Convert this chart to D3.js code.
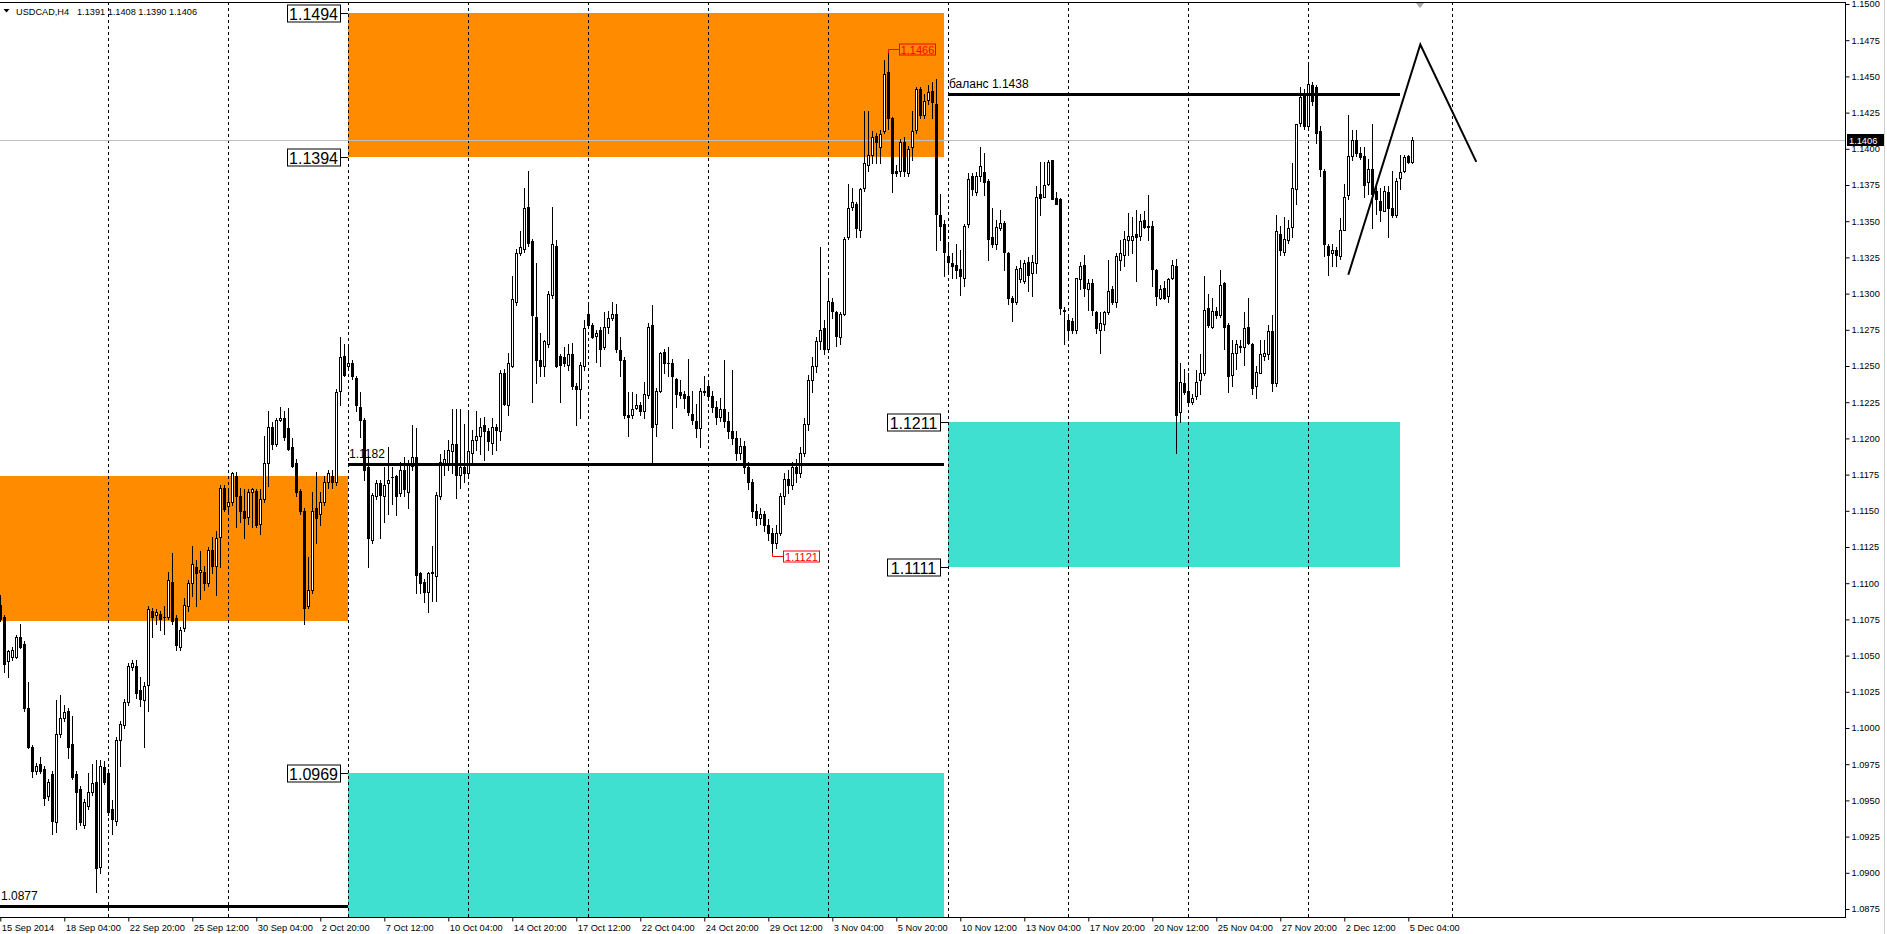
<!DOCTYPE html>
<html>
<head>
<meta charset="utf-8">
<script src="https://d3js.org/d3.v7.min.js"></script>
<style>
  body { margin: 0; background: #fff; }
  svg { display: block; }
</style>
</head>
<body>
<svg class="target" width="1887" height="934"></svg>
<script>

// USDCAD H4 bars, bar 0 = 15 Sep 2014 12:00 ... bar 353 = 5 Dec 2014 08:00
const opens = [
1.1085,1.1077,1.1046,1.1049,1.1049,1.1063,1.1058,1.1014,1.0987,1.0970,
1.0975,1.0972,1.0953,1.0968,1.0935,1.0996,1.1007,1.1012,1.0989,1.0968,
1.0958,1.0933,1.0946,1.0956,1.0963,1.0904,1.0973,1.0969,1.0944,1.0936,
1.0992,1.1002,1.1018,1.1042,1.1043,1.1026,1.1019,1.1030,1.1081,1.1078,
1.1079,1.1077,1.1077,1.1101,1.1076,1.1056,1.1069,1.1084,1.1100,1.1111,
1.1108,1.1108,1.1100,1.1123,1.1112,1.1132,1.1166,1.1153,1.1156,1.1174,
1.1160,1.1150,1.1146,1.1163,1.1164,1.1141,1.1158,1.1183,1.1208,1.1196,
1.1213,1.1214,1.1207,1.1194,1.1183,1.1164,1.1150,1.1084,1.1095,1.1152,
1.1148,1.1156,1.1170,1.1174,1.1170,1.1233,1.1257,1.1250,1.1252,1.1242,
1.1222,1.1213,1.1180,1.1130,1.1160,1.1169,1.1160,1.1169,1.1173,1.1174,
1.1162,1.1178,1.1163,1.1181,1.1187,1.1107,1.1101,1.1094,1.1107,1.1105,
1.1160,1.1183,1.1182,1.1191,1.1196,1.1175,1.1180,1.1176,1.1190,1.1199,
1.1202,1.1209,1.1205,1.1197,1.1208,1.1205,1.1245,1.1223,1.1250,1.1294,
1.1328,1.1331,1.1360,1.1336,1.1284,1.1254,1.1250,1.1265,1.1299,1.1333,
1.1257,1.1256,1.1251,1.1258,1.1236,1.1234,1.1250,1.1286,1.1278,1.1271,
1.1275,1.1263,1.1277,1.1283,1.1286,1.1261,1.1254,1.1216,1.1216,1.1221,
1.1223,1.1219,1.1230,1.1278,1.1210,1.1233,1.1260,1.1252,1.1252,1.1241,
1.1232,1.1231,1.1229,1.1217,1.1212,1.1207,1.1233,1.1236,1.1229,1.1222,
1.1215,1.1220,1.1212,1.1205,1.1200,1.1190,1.1195,1.1180,1.1170,1.1150,
1.1145,1.1148,1.1140,1.1135,1.1128,1.1135,1.1160,1.1172,1.1168,1.1180,
1.1176,1.1190,1.1210,1.1240,1.1250,1.1267,1.1276,1.1262,1.1294,1.1287,
1.1270,1.1286,1.1339,1.1360,1.1362,1.1344,1.1373,1.1389,1.1396,1.1409,
1.1401,1.1412,1.1453,1.1421,1.1385,1.1385,1.1405,1.1383,1.1401,1.1413,
1.1441,1.1423,1.1434,1.1440,1.1431,1.1354,1.1348,1.1326,1.1321,1.1320,
1.1317,1.1311,1.1348,1.1381,1.1370,1.1381,1.1384,1.1378,1.1339,1.1334,
1.1345,1.1349,1.1328,1.1297,1.1294,1.1310,1.1309,1.1322,1.1314,1.1321,
1.1369,1.1367,1.1376,1.1392,1.1366,1.1365,1.1289,1.1282,1.1281,1.1275,
1.1310,1.1320,1.1303,1.1307,1.1287,1.1275,1.1279,1.1287,1.1303,1.1294,
1.1323,1.1327,1.1337,1.1337,1.1341,1.1340,1.1351,1.1346,1.1347,1.1316,
1.1297,1.1304,1.1298,1.1311,1.1319,1.1218,1.1238,1.1233,1.1225,1.1229,
1.1240,1.1245,1.1290,1.1277,1.1288,1.1285,1.1307,1.1278,1.1244,1.1259,
1.1264,1.1263,1.1277,1.1265,1.1236,1.1245,1.1257,1.1258,1.1274,1.1238,
1.1341,1.1329,1.1337,1.1346,1.1372,1.1418,1.1438,1.1416,1.1444,1.1443,
1.1412,1.1385,1.1333,1.1328,1.1330,1.1326,1.1344,1.1368,1.1395,1.1406,
1.1397,1.1395,1.1377,1.1386,1.1371,1.1364,1.1357,1.1370,1.1359,1.1354,
1.1380,1.1385,1.1395,1.1391
]
const highs = [
1.1092,1.1078,1.1054,1.1056,1.1064,1.1072,1.1060,1.1032,1.0988,1.0976,
1.0980,1.0974,1.0965,1.0970,1.1019,1.1023,1.1016,1.1014,1.1008,1.0970,
1.0960,1.0951,1.0969,1.0975,1.0978,1.0978,1.0977,1.0972,1.0950,1.0994,
1.1005,1.1020,1.1045,1.1047,1.1047,1.1035,1.1032,1.1084,1.1083,1.1082,
1.1081,1.1084,1.1108,1.1121,1.1078,1.1070,1.1090,1.1102,1.1126,1.1116,
1.1122,1.1112,1.1125,1.1132,1.1136,1.1168,1.1168,1.1166,1.1177,1.1177,
1.1166,1.1165,1.1165,1.1166,1.1165,1.1165,1.1202,1.1219,1.1211,1.1214,
1.1222,1.1219,1.1221,1.1200,1.1186,1.1165,1.1152,1.1118,1.1163,1.1177,
1.1163,1.1174,1.1178,1.1178,1.1234,1.1270,1.1265,1.1265,1.1254,1.1243,
1.1232,1.1214,1.1188,1.1162,1.1171,1.1171,1.1180,1.1194,1.1180,1.1175,
1.1184,1.1187,1.1185,1.1209,1.1207,1.1108,1.1103,1.1108,1.1126,1.1163,
1.1189,1.1192,1.1199,1.1220,1.1220,1.1220,1.1210,1.1219,1.1206,1.1219,
1.1214,1.1215,1.1207,1.1214,1.1210,1.1247,1.1248,1.1259,1.1312,1.1331,
1.1343,1.1373,1.1385,1.1338,1.1321,1.1273,1.1268,1.1302,1.1360,1.1337,
1.1258,1.1263,1.1265,1.1266,1.1238,1.1253,1.1282,1.1294,1.1280,1.1275,
1.1277,1.1287,1.1288,1.1294,1.1293,1.1270,1.1256,1.1232,1.1232,1.1231,
1.1225,1.1239,1.1280,1.1292,1.1235,1.1260,1.1262,1.1263,1.1255,1.1242,
1.1240,1.1233,1.1255,1.1233,1.1224,1.1235,1.1243,1.1238,1.1233,1.1226,
1.1228,1.1254,1.1218,1.1247,1.1205,1.1200,1.1198,1.1184,1.1172,1.1155,
1.1152,1.1150,1.1144,1.1138,1.1140,1.1162,1.1176,1.1178,1.1184,1.1186,
1.1194,1.1214,1.1244,1.1256,1.1270,1.1332,1.1282,1.1311,1.1297,1.1288,
1.1287,1.1339,1.1376,1.1373,1.1363,1.1373,1.1426,1.1426,1.1412,1.1411,
1.1413,1.1461,1.1466,1.1422,1.1389,1.1407,1.1408,1.1402,1.1426,1.1443,
1.1443,1.1438,1.1444,1.1446,1.1448,1.1369,1.1351,1.1334,1.1328,1.1334,
1.1330,1.1348,1.1383,1.1383,1.1384,1.1401,1.1397,1.1379,1.1359,1.1351,
1.1358,1.1350,1.1329,1.1298,1.1319,1.1323,1.1323,1.1325,1.1327,1.1374,
1.1391,1.1391,1.1392,1.1392,1.1370,1.1366,1.1291,1.1284,1.1283,1.1311,
1.1322,1.1327,1.1310,1.1310,1.1288,1.1287,1.1288,1.1323,1.1305,1.1328,
1.1337,1.1343,1.1356,1.1353,1.1358,1.1355,1.1357,1.1368,1.1350,1.1317,
1.1306,1.1309,1.1311,1.1323,1.1324,1.1252,1.1248,1.1245,1.1231,1.1247,
1.1258,1.1312,1.1300,1.1297,1.1291,1.1316,1.1308,1.1280,1.1268,1.1268,
1.1268,1.1287,1.1297,1.1266,1.1250,1.1268,1.1268,1.1278,1.1285,1.1354,
1.1347,1.1353,1.1351,1.1390,1.1417,1.1443,1.1441,1.1460,1.1446,1.1444,
1.1416,1.1386,1.1334,1.1334,1.1332,1.1352,1.1376,1.1423,1.1413,1.1413,
1.1401,1.1401,1.1393,1.1417,1.1374,1.1373,1.1374,1.1374,1.1385,1.1380,
1.1396,1.1396,1.1396,1.1408
]
const lows = [
1.1074,1.1039,1.1035,1.1047,1.1048,1.1055,1.1012,1.0986,1.0966,1.0968,
1.0969,1.0947,1.0950,1.0927,1.0928,1.0994,1.1005,1.0979,1.0965,1.0930,
1.0933,1.0931,1.0944,1.0954,1.0887,1.0900,1.0961,1.0940,1.0927,1.0933,
1.0974,1.1000,1.1016,1.1040,1.1021,1.1015,1.0987,1.1012,1.1063,1.1072,
1.1068,1.1065,1.1075,1.1072,1.1054,1.1054,1.1067,1.1081,1.1091,1.1084,
1.1089,1.1095,1.1098,1.1107,1.1092,1.1111,1.1150,1.1150,1.1154,1.1139,
1.1142,1.1131,1.1141,1.1139,1.1139,1.1134,1.1156,1.1167,1.1193,1.1195,
1.1212,1.1199,1.1192,1.1180,1.1160,1.1148,1.1072,1.1083,1.1093,1.1128,
1.1140,1.1154,1.1166,1.1166,1.1168,1.1223,1.1243,1.1247,1.1241,1.1219,
1.1201,1.1171,1.1111,1.1128,1.1158,1.1131,1.1142,1.1148,1.1155,1.1147,
1.1160,1.1160,1.1152,1.1178,1.1093,1.1093,1.1087,1.1080,1.1088,1.1088,
1.1158,1.1175,1.1178,1.1176,1.1159,1.1166,1.1170,1.1173,1.1182,1.1192,
1.1189,1.1185,1.1192,1.1189,1.1192,1.1199,1.1223,1.1216,1.1249,1.1292,
1.1327,1.1329,1.1333,1.1225,1.1238,1.1243,1.1243,1.1263,1.1297,1.1249,
1.1225,1.1250,1.1247,1.1234,1.1209,1.1214,1.1247,1.1276,1.1269,1.1253,
1.1250,1.1262,1.1273,1.1282,1.1260,1.1243,1.1214,1.1202,1.1214,1.1220,
1.1216,1.1214,1.1228,1.1183,1.1202,1.1232,1.1245,1.1243,1.1207,1.1222,
1.1228,1.1221,1.1216,1.1210,1.1201,1.1194,1.1230,1.1227,1.1218,1.1210,
1.1212,1.1208,1.1200,1.1196,1.1185,1.1186,1.1176,1.1165,1.1146,1.1140,
1.1141,1.1136,1.1130,1.1121,1.1124,1.1133,1.1155,1.1162,1.1165,1.1170,
1.1173,1.1188,1.1206,1.1232,1.1246,1.1262,1.1258,1.1260,1.1283,1.1264,
1.1265,1.1285,1.1338,1.1358,1.1339,1.1339,1.1371,1.1385,1.1390,1.1390,
1.1390,1.1411,1.1414,1.1370,1.1381,1.1381,1.1381,1.1381,1.1392,1.1411,
1.1421,1.1421,1.1431,1.1421,1.1330,1.1337,1.1312,1.1314,1.1311,1.1311,
1.1299,1.1305,1.1346,1.1368,1.1368,1.1378,1.1368,1.1323,1.1332,1.1331,
1.1344,1.1316,1.1293,1.1281,1.1293,1.1308,1.1307,1.1302,1.1298,1.1314,
1.1354,1.1367,1.1375,1.1365,1.1362,1.1286,1.1265,1.1268,1.1273,1.1273,
1.1303,1.1298,1.1289,1.1285,1.1273,1.1259,1.1275,1.1286,1.1293,1.1291,
1.1316,1.1319,1.1327,1.1328,1.1309,1.1337,1.1345,1.1337,1.1305,1.1292,
1.1296,1.1296,1.1294,1.1310,1.1190,1.1211,1.1231,1.1223,1.1224,1.1227,
1.1231,1.1244,1.1277,1.1276,1.1283,1.1284,1.1262,1.1232,1.1236,1.1248,
1.1260,1.1251,1.1265,1.1231,1.1228,1.1245,1.1254,1.1255,1.1233,1.1236,
1.1327,1.1327,1.1335,1.1339,1.1362,1.1416,1.1414,1.1415,1.1430,1.1404,
1.1381,1.1326,1.1313,1.1319,1.1319,1.1324,1.1344,1.1365,1.1392,1.1395,
1.1393,1.1367,1.1369,1.1345,1.1355,1.1350,1.1357,1.1339,1.1353,1.1353,
1.1372,1.1384,1.1390,1.1390
]
const closes = [
1.1075,1.1044,1.1053,1.1054,1.1063,1.1056,1.1014,1.0987,1.0970,1.0974,
1.0970,1.0952,1.0963,1.0936,1.0996,1.1007,1.1011,1.0987,1.0966,1.0956,
1.0935,1.0949,1.0956,1.0962,1.0903,1.0974,1.0963,1.0942,1.0937,1.0992,
1.1003,1.1018,1.1043,1.1045,1.1024,1.1020,1.1029,1.1082,1.1077,1.1080,
1.1075,1.1077,1.1102,1.1074,1.1057,1.1068,1.1085,1.1100,1.1113,1.1107,
1.1109,1.1100,1.1123,1.1112,1.1131,1.1166,1.1151,1.1156,1.1176,1.1160,
1.1150,1.1145,1.1163,1.1165,1.1140,1.1158,1.1183,1.1208,1.1196,1.1213,
1.1214,1.1201,1.1193,1.1181,1.1163,1.1150,1.1083,1.1095,1.1150,1.1145,
1.1156,1.1170,1.1176,1.1170,1.1232,1.1256,1.1244,1.1252,1.1243,1.1223,
1.1213,1.1178,1.1131,1.1161,1.1169,1.1161,1.1168,1.1171,1.1173,1.1160,
1.1178,1.1165,1.1182,1.1187,1.1106,1.1100,1.1094,1.1107,1.1108,1.1161,
1.1184,1.1186,1.1192,1.1196,1.1175,1.1180,1.1176,1.1191,1.1199,1.1202,
1.1208,1.1205,1.1198,1.1208,1.1206,1.1245,1.1224,1.1252,1.1296,1.1328,
1.1332,1.1359,1.1335,1.1285,1.1254,1.1250,1.1267,1.1300,1.1334,1.1250,
1.1251,1.1252,1.1258,1.1236,1.1234,1.1251,1.1276,1.1278,1.1270,1.1273,
1.1262,1.1277,1.1283,1.1286,1.1262,1.1254,1.1216,1.1215,1.1220,1.1223,
1.1219,1.1231,1.1277,1.1208,1.1233,1.1259,1.1252,1.1252,1.1243,1.1231,
1.1230,1.1228,1.1218,1.1213,1.1207,1.1233,1.1232,1.1229,1.1222,1.1215,
1.1220,1.1212,1.1205,1.1200,1.1190,1.1195,1.1180,1.1170,1.1150,1.1145,
1.1148,1.1140,1.1135,1.1128,1.1135,1.1160,1.1172,1.1168,1.1180,1.1176,
1.1190,1.1210,1.1240,1.1250,1.1267,1.1275,1.1262,1.1295,1.1288,1.1271,
1.1286,1.1338,1.1359,1.1363,1.1345,1.1372,1.1390,1.1396,1.1408,1.1405,
1.1410,1.1452,1.1421,1.1383,1.1383,1.1405,1.1385,1.1400,1.1412,1.1441,
1.1423,1.1433,1.1439,1.1432,1.1355,1.1347,1.1329,1.1322,1.1319,1.1316,
1.1312,1.1347,1.1379,1.1372,1.1381,1.1388,1.1377,1.1338,1.1334,1.1346,
1.1349,1.1329,1.1297,1.1294,1.1317,1.1318,1.1321,1.1313,1.1322,1.1367,
1.1366,1.1375,1.1391,1.1365,1.1362,1.1290,1.1288,1.1275,1.1275,1.1311,
1.1319,1.1304,1.1307,1.1289,1.1276,1.1280,1.1287,1.1302,1.1294,1.1326,
1.1328,1.1338,1.1340,1.1340,1.1339,1.1350,1.1346,1.1347,1.1317,1.1298,
1.1303,1.1297,1.1310,1.1320,1.1216,1.1239,1.1232,1.1225,1.1228,1.1239,
1.1245,1.1289,1.1278,1.1288,1.1285,1.1306,1.1277,1.1243,1.1259,1.1265,
1.1263,1.1276,1.1266,1.1235,1.1246,1.1258,1.1259,1.1274,1.1238,1.1343,
1.1330,1.1338,1.1345,1.1373,1.1417,1.1436,1.1416,1.1445,1.1433,1.1411,
1.1386,1.1334,1.1327,1.1330,1.1327,1.1344,1.1367,1.1395,1.1406,1.1397,
1.1394,1.1375,1.1386,1.1369,1.1365,1.1358,1.1371,1.1359,1.1354,1.1378,
1.1384,1.1394,1.1391,1.1406
]

// price scale labels
const priceTicks = [1.0875,1.0900,1.0925,1.0950,1.0975,1.1000,1.1025,1.1050,1.1075,1.1100,
  1.1125,1.1150,1.1175,1.1200,1.1225,1.1250,1.1275,1.1300,1.1325,1.1350,1.1375,1.1400,
  1.1425,1.1450,1.1475,1.1500]

// time scale labels (bar index where each one sits)
const timeLabels = ['15 Sep 2014','18 Sep 04:00','22 Sep 20:00','25 Sep 12:00','30 Sep 04:00',
  '2 Oct 20:00','7 Oct 12:00','10 Oct 04:00','14 Oct 20:00','17 Oct 12:00','22 Oct 04:00',
  '24 Oct 20:00','29 Oct 12:00','3 Nov 04:00','5 Nov 20:00','10 Nov 12:00','13 Nov 04:00',
  '17 Nov 20:00','20 Nov 12:00','25 Nov 04:00','27 Nov 20:00','2 Dec 12:00','5 Dec 04:00']
const timeLabelIdx = [0,16,32,48,64,80,96,112,128,144,160,176,192,208,224,240,256,272,288,304,320,336,352]

// weekly grid lines (Monday 00:00); the last one falls in the empty shifted area
const gridIdx = [27,57,87,117,147,177,207,237,267,297,327,363]

// supply / demand zones
const zoneFrom = [-20, 87, 87, 237]
const zoneTo = [87, 236, 236, 350]
const zoneHigh = [1.1174, 1.1494, 1.0969, 1.1211]
const zoneLow = [1.1074, 1.1394, 1.0840, 1.1111]
const zoneKind = ['sell', 'sell', 'buy', 'buy']

// horizontal levels with their captions
const levelFrom = [-20, 87, 237]
const levelTo = [87, 236, 350]
const levelPrice = [1.0877, 1.1182, 1.1438]
const levelText = ['1.0877', '1.1182', 'баланс 1.1438']

// boxed price tags at zone edges
const tagPrice = [1.1494, 1.1394, 1.0969, 1.1211, 1.1111]
const tagIdx = [87, 87, 87, 237, 237]

// high / low markers
const markIdx = [222, 193]
const markPrice = [1.1466, 1.1121]
const markSide = ['high', 'low']

// projected zigzag
const zigIdx = [337, 355, 369]
const zigPrice = [1.1313, 1.1472, 1.1391]

const symbol = 'USDCAD,H4'


width = 1887
height = 934
plotR = 1845     // right price scale line
plotT = 2
plotB = 917
font = "'Liberation Sans', Arial, sans-serif"

zoneColor = d3.scaleOrdinal().domain(['sell', 'buy']).range(['#ff8c00', '#40e0d0'])

x = d3.scaleLinear().domain([0, 353]).range([0.3, 1412.3])   // 4px per bar
y = d3.scaleLinear().domain([1.0875, 1.15]).range([909, 4])

px = i => Math.round(x(i))
py = p => Math.round(y(p))

bars = opens.map((o, i) => ({ i, o, h: highs[i], l: lows[i], c: closes[i] }))

const svg = d3.select('.target')
  .attr('width', width)
  .attr('height', height)
  .style('font-family', font)

svg.append('defs').append('clipPath').attr('id', 'plot')
  .append('rect').attr('x', 0).attr('y', plotT).attr('width', plotR).attr('height', plotB - plotT)

const plot = svg.append('g').attr('clip-path', 'url(#plot)')

// zones sit in the background
plot.append('g').attr('shape-rendering', 'crispEdges')
  .selectAll('rect')
  .data(zoneFrom.map((f, k) => ({ f, t: zoneTo[k], hi: zoneHigh[k], lo: zoneLow[k], kind: zoneKind[k] })))
  .join('rect')
    .attr('x', d => px(d.f))
    .attr('y', d => py(d.hi))
    .attr('width', d => px(d.t) - px(d.f))
    .attr('height', d => py(d.lo) - py(d.hi))
    .attr('fill', d => zoneColor(d.kind))

// weekly grid
plot.append('g')
  .selectAll('line')
  .data(gridIdx)
  .join('line')
    .attr('x1', d => px(d) + 0.5)
    .attr('x2', d => px(d) + 0.5)
    .attr('y1', plotT)
    .attr('y2', plotB)
    .attr('stroke', '#000')
    .attr('stroke-dasharray', '3,3')

// bid line
lastClose = closes[closes.length - 1]
plot.append('line')
  .attr('x1', 0).attr('x2', plotR)
  .attr('y1', py(lastClose) + 0.5).attr('y2', py(lastClose) + 0.5)
  .attr('stroke', '#c0c0c0')

// candles: wick, then body, then hollow middle for up bars
const gc = plot.append('g').attr('shape-rendering', 'crispEdges')

gc.selectAll('rect.wick')
  .data(bars)
  .join('rect')
    .attr('class', 'wick')
    .attr('x', d => px(d.i))
    .attr('y', d => py(d.h))
    .attr('width', 1)
    .attr('height', d => Math.max(1, py(d.l) - py(d.h) + 1))
    .attr('fill', '#000')

gc.selectAll('rect.body')
  .data(bars)
  .join('rect')
    .attr('class', 'body')
    .attr('x', d => px(d.i) - 1)
    .attr('y', d => py(Math.max(d.o, d.c)))
    .attr('width', 3)
    .attr('height', d => Math.max(1, py(Math.min(d.o, d.c)) - py(Math.max(d.o, d.c)) + 1))
    .attr('fill', '#000')

gc.selectAll('rect.hollow')
  .data(bars.filter(d => d.c > d.o))
  .join('rect')
    .attr('class', 'hollow')
    .attr('x', d => px(d.i))
    .attr('y', d => py(d.c) + 1)
    .attr('width', 1)
    .attr('height', d => Math.max(0, py(d.o) - py(d.c) - 1))
    .attr('fill', '#fff')

// thick level lines + captions
levels = levelFrom.map((f, k) => ({ f, t: levelTo[k], p: levelPrice[k], text: levelText[k] }))

plot.append('g').attr('shape-rendering', 'crispEdges')
  .selectAll('rect')
  .data(levels)
  .join('rect')
    .attr('x', d => px(d.f))
    .attr('y', d => py(d.p) - 1)
    .attr('width', d => px(d.t) - px(d.f))
    .attr('height', 3)
    .attr('fill', '#000')

plot.append('g')
  .selectAll('text')
  .data(levels)
  .join('text')
    .attr('x', d => Math.max(1, px(d.f) + 1))
    .attr('y', d => py(d.p) - 6)
    .style('font-size', '12px')
    .attr('fill', '#000')
    .text(d => d.text)

// zigzag projection
plot.append('path')
  .datum(zigIdx.map((t, k) => [x(t), y(zigPrice[k])]))
  .attr('d', d3.line())
  .attr('fill', 'none')
  .attr('stroke', '#000')
  .attr('stroke-width', 2)

// price tags left of the zones
const tags = svg.append('g')
tagPrice.forEach((p, k) => {
  const right = px(tagIdx[k]) - 8, yy = py(p) + 0.5
  tags.append('line')
    .attr('x1', right).attr('x2', px(tagIdx[k]))
    .attr('y1', yy).attr('y2', yy)
    .attr('stroke', '#000')
  tags.append('rect')
    .attr('x', right - 53 + 0.5).attr('y', yy - 8.5)
    .attr('width', 53).attr('height', 17)
    .attr('fill', '#fff').attr('stroke', '#000')
  tags.append('text')
    .attr('x', right - 26.5).attr('y', yy + 6)
    .attr('text-anchor', 'middle')
    .style('font-size', '16px')
    .attr('fill', '#000')
    .text(d3.format('.4f')(p))
})

// red high/low markers
const marks = svg.append('g')
markIdx.forEach((i, k) => {
  const cx = px(i) + 0.5
  const y0 = py(markPrice[k])
  const yb = markSide[k] == 'high' ? y0 - 3.5 : y0 + 3.5
  marks.append('path')
    .attr('d', `M${cx},${y0} V${yb} H${cx + 11}`)
    .attr('fill', 'none').attr('stroke', '#ff0000')
  marks.append('rect')
    .attr('x', cx + 11).attr('y', yb - 5.5)
    .attr('width', 36).attr('height', 11)
    .attr('fill', 'none').attr('stroke', '#ff0000')
  marks.append('text')
    .attr('x', cx + 29).attr('y', yb + 4)
    .attr('text-anchor', 'middle')
    .style('font-size', '11px')
    .attr('fill', '#ff0000')
    .text(d3.format('.4f')(markPrice[k]))
})

// frame
const frame = svg.append('g').attr('stroke', '#000').attr('shape-rendering', 'crispEdges')
frame.append('line').attr('x1', 0).attr('x2', plotR).attr('y1', plotT + 0.5).attr('y2', plotT + 0.5)
frame.append('line').attr('x1', 0).attr('x2', plotR + 1).attr('y1', plotB + 0.5).attr('y2', plotB + 0.5)
frame.append('line').attr('x1', plotR + 0.5).attr('x2', plotR + 0.5).attr('y1', plotT).attr('y2', plotB + 1)
svg.append('line').attr('x1', 1884.5).attr('x2', 1884.5).attr('y1', 0).attr('y2', height)
  .attr('stroke', '#d0d0d0')

// price scale
svg.append('g')
  .attr('transform', `translate(${plotR + 0.5},0)`)
  .call(d3.axisRight(y).tickValues(priceTicks).tickSize(4).tickPadding(2).tickFormat(d3.format('.4f')))
  .call(g => g.select('.domain').remove())
  .call(g => g.selectAll('text').style('font-size', '9.25px').style('font-family', font).attr('fill', '#000'))

// bid tag on the scale
svg.append('rect')
  .attr('x', plotR + 2).attr('y', py(lastClose) - 6)
  .attr('width', 37).attr('height', 12)
  .attr('fill', '#000')
svg.append('text')
  .attr('x', plotR + 4).attr('y', py(lastClose) + 3.5)
  .style('font-size', '9.25px')
  .attr('fill', '#fff')
  .text(d3.format('.4f')(lastClose))

// time scale
svg.append('g')
  .attr('transform', `translate(0,${plotB + 0.5})`)
  .call(d3.axisBottom(x).tickValues(timeLabelIdx).tickSize(4).tickPadding(3)
    .tickFormat((d, k) => timeLabels[k]))
  .call(g => g.select('.domain').remove())
  .call(g => g.selectAll('text').attr('text-anchor', 'start').attr('x', 1)
    .style('font-size', '9.25px').style('font-family', font).attr('fill', '#000'))

// chart shift marker
svg.append('path')
  .attr('d', `M${px(355) - 4},${plotT + 1} h8 l-4,5 z`)
  .attr('fill', '#a8a8a8')

// header
svg.append('path').attr('d', 'M3.5,9 h6 l-3,3.5 z').attr('fill', '#000')
svg.append('text').attr('x', 16).attr('y', 14.5)
  .style('font-size', '9.2px').attr('fill', '#000')
  .text(symbol)
svg.append('text').attr('x', 77).attr('y', 14.5)
  .style('font-size', '9.2px').attr('fill', '#000')
  .text([opens, highs, lows, closes].map(a => a[a.length - 1].toFixed(4)).join(' '))

</script>
</body>
</html>
